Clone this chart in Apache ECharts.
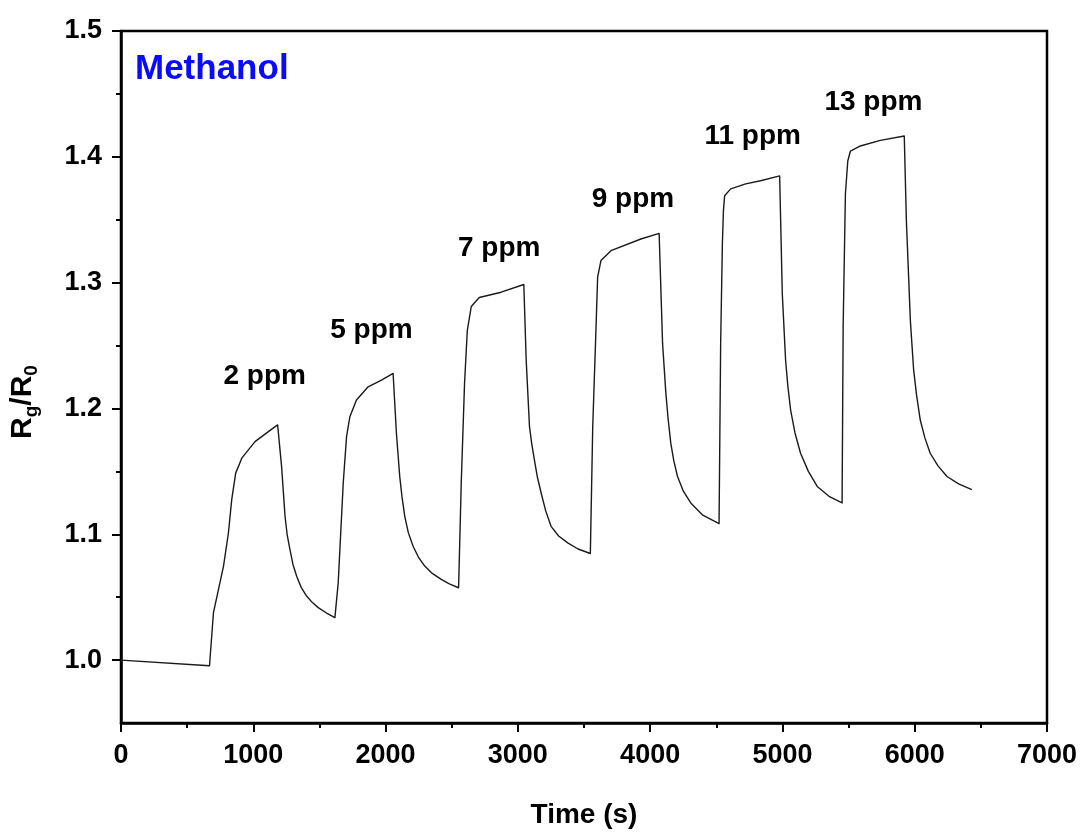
<!DOCTYPE html>
<html>
<head>
<meta charset="utf-8">
<title>Methanol response</title>
<script src="https://cdn.jsdelivr.net/npm/echarts@6.0.0/dist/echarts.min.js"></script>
<style>
  html, body { margin: 0; padding: 0; background: #fff; }
  #chart { width: 1081px; height: 834px; }
</style>
</head>
<body>
<div id="chart"></div>
<script>
// time (s)
const times = [
  0, 669, 699, 775, 812, 837, 867, 913, 1013, 1114,
  1184, 1214, 1240, 1256, 1277, 1300, 1328, 1362, 1403, 1445, 1491, 1554, 1617,
  1642, 1680, 1705, 1730, 1780, 1868, 1969,
  2057, 2082, 2107, 2124, 2145, 2172, 2208, 2248, 2296, 2353, 2421, 2482, 2552,
  2572, 2597, 2610, 2618, 2648, 2708, 2874,
  3045, 3063, 3088, 3105, 3125, 3148, 3176, 3210, 3251, 3308, 3377, 3455, 3548,
  3566, 3591, 3603, 3628, 3704, 3930,
  4068, 4094, 4119, 4136, 4156, 4179, 4207, 4251, 4307, 4398, 4521,
  4533, 4546, 4554, 4563, 4609, 4722, 4835,
  4979, 4999, 5024, 5041, 5062, 5095, 5137, 5196, 5263, 5352, 5451,
  5459, 5476, 5494, 5514, 5589, 5740,
  5921, 5937, 5967, 5992, 6015, 6042, 6077, 6117, 6176, 6244, 6332, 6432
];
// Rg/R0
const ratio = [
  1.000, 0.9955, 1.0378, 1.0747, 1.101, 1.1275, 1.1486, 1.1605, 1.1736, 1.1816,
  1.1869, 1.1538, 1.1143, 1.0998, 1.0879, 1.0760, 1.0667, 1.0578, 1.0509, 1.0459, 1.0417, 1.0374, 1.0338,
  1.0614, 1.1408, 1.1776, 1.1934, 1.2067, 1.2172, 1.2225,
  1.2278, 1.1803, 1.1460, 1.1299, 1.1143, 1.1013, 1.0905, 1.0819, 1.0747, 1.0689, 1.0641, 1.0605, 1.0575,
  1.1407, 1.2199, 1.2462, 1.2621, 1.2811, 1.2882, 1.2924,
  1.2985, 1.2383, 1.1855, 1.1718, 1.1591, 1.1453, 1.1328, 1.1188, 1.1063, 1.0986, 1.0932, 1.0883, 1.0847,
  1.1855, 1.2647, 1.3043, 1.3175, 1.3254, 1.3347,
  1.3391, 1.2515, 1.2120, 1.1916, 1.1724, 1.1584, 1.1459, 1.1342, 1.1249, 1.1152, 1.1085,
  1.2515, 1.3307, 1.3571, 1.369, 1.3745, 1.3785, 1.381,
  1.3848, 1.2911, 1.2383, 1.2177, 1.1987, 1.1805, 1.1644, 1.1500, 1.1380, 1.1302, 1.1249,
  1.2647, 1.3703, 1.3967, 1.4046, 1.4086, 1.4131,
  1.4165, 1.3492, 1.2700, 1.2304, 1.2098, 1.1908, 1.1766, 1.1644, 1.1544, 1.1459, 1.1401, 1.1354
];

// concentration labels and where they sit (data coords)
const ppmLabels = ['2 ppm', '5 ppm', '7 ppm', '9 ppm', '11 ppm', '13 ppm'];
const ppmLabelTime = [1086, 1893, 2859, 3870, 4775, 5688];
const ppmLabelRatio = [1.2257, 1.2621, 1.327, 1.3666, 1.4165, 1.4434];

const yMajorTicks = [1.0, 1.1, 1.2, 1.3, 1.4, 1.5];
const yMinorTicks = [1.05, 1.15, 1.25, 1.35, 1.45];

const FONT = "'Liberation Sans', Arial, sans-serif";

const chart = echarts.init(document.getElementById('chart'));

const option = {
  backgroundColor: '#fff',
  animation: false,
  grid: {
    left: 119, top: 31, right: 34, bottom: 110,
    show: true, borderColor: '#000', borderWidth: 2.5
  },
  graphic: [{
    type: 'text',
    left: 135, top: 52,
    style: { text: 'Methanol', fill: '#0a0aff', font: "bold 35px " + FONT }
  }],
  xAxis: {
    type: 'value',
    min: 0, max: 7000, interval: 1000,
    name: 'Time (s)',
    nameLocation: 'middle',
    nameGap: 78,
    nameTextStyle: { fontFamily: FONT, fontWeight: 'bold', fontSize: 28, color: '#000' },
    axisLine: { onZero: false, lineStyle: { color: '#000', width: 2.5 } },
    axisTick: { length: 9, lineStyle: { color: '#000', width: 2 } },
    minorTick: { show: true, splitNumber: 2, length: 5, lineStyle: { color: '#000', width: 2 } },
    splitLine: { show: false },
    axisLabel: {
      margin: 19, fontFamily: FONT, fontWeight: 'bold', fontSize: 27, color: '#000',
      showMaxLabel: true, formatter: v => String(v)
    }
  },
  yAxis: [{
    type: 'value',
    min: 0.95, max: 1.5,
    name: '{m|R}{s|g}{m|/R}{s|0}',
    nameLocation: 'middle',
    nameGap: 80,
    nameTextStyle: {
      fontFamily: FONT, fontWeight: 'bold', fontSize: 30, color: '#000',
      padding: [0, 50, 0, 0],
      rich: {
        m: { fontFamily: FONT, fontWeight: 'bold', fontSize: 30, color: '#000', lineHeight: 36 },
        s: { fontFamily: FONT, fontWeight: 'bold', fontSize: 19, color: '#000', lineHeight: 20, verticalAlign: 'bottom' }
      }
    },
    axisLine: { show: true, onZero: false, lineStyle: { color: '#000', width: 2.5 } },
    axisTick: { show: true, customValues: yMajorTicks, length: 9, lineStyle: { color: '#000', width: 2 } },
    splitLine: { show: false },
    axisLabel: {
      customValues: yMajorTicks,
      margin: 19,
      fontFamily: FONT, fontWeight: 'bold', fontSize: 27, color: '#000',
      formatter: v => v.toFixed(1)
    }
  }, {
    type: 'value',
    min: 0.95, max: 1.5,
    position: 'left',
    axisLine: { show: false },
    axisTick: { show: true, customValues: yMinorTicks, length: 5, lineStyle: { color: '#000', width: 2 } },
    axisLabel: { show: false },
    splitLine: { show: false }
  }],
  series: [{
    type: 'line',
    data: times.map((t, i) => [t, ratio[i]]),
    showSymbol: false,
    symbol: 'none',
    lineStyle: { color: '#1a1a1a', width: 1.4, join: 'round' },
    z: 3
  }, {
    type: 'scatter',
    data: ppmLabels.map((s, i) => [ppmLabelTime[i], ppmLabelRatio[i], s]),
    symbolSize: 0,
    itemStyle: { opacity: 1, color: '#000' },
    label: {
      show: true,
      position: 'inside',
      formatter: p => p.data[2],
      fontFamily: FONT, fontWeight: 'bold', fontSize: 28, color: '#000',
      textBorderWidth: 0
    },
    z: 4
  }]
};

chart.setOption(option);
</script>
</body>
</html>
